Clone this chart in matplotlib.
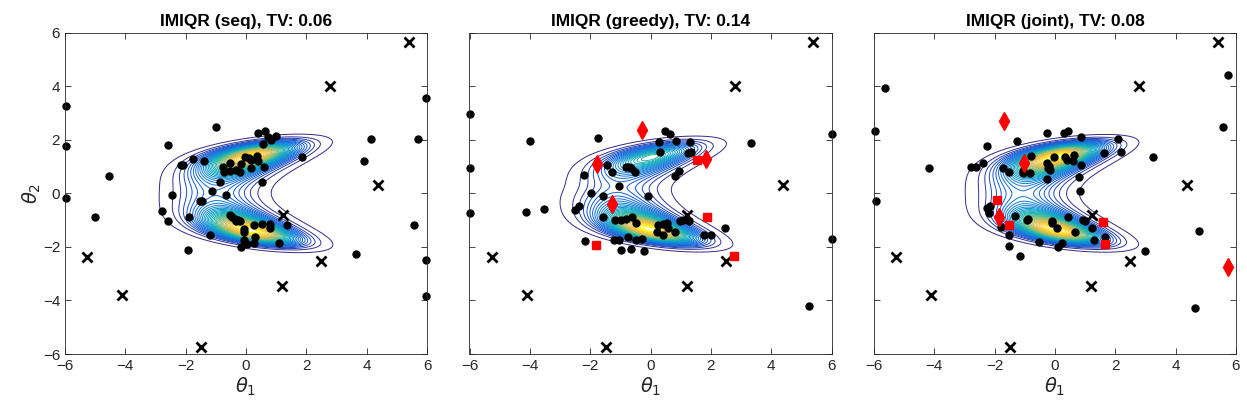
import matplotlib
matplotlib.use('Agg')
import matplotlib.pyplot as plt
import numpy as np
from matplotlib.colors import LinearSegmentedColormap

# initial design points (same in every panel)
cross_x = [5.40, 2.79, 4.39, 1.22, 2.49, 1.20, -5.26, -4.10, -1.49]
cross_y = [5.64, 4.01, 0.32, -0.80, -2.51, -3.45, -2.36, -3.81, -5.75]

titles = ['IMIQR (seq), TV: 0.06', 'IMIQR (greedy), TV: 0.14', 'IMIQR (joint), TV: 0.08']

# evaluated points, panel 1 (seq)
seq_x = [-5.97, -5.97, -5.97, -5.02, -4.53, 5.98, 5.71, 4.13, 3.91, 5.58, 5.98, 5.98, 3.64,
         -1.91, -0.99, -2.60, 1.84, -2.77, -2.59, -2.46, -1.88, -2.14, -2.10, -1.76, -1.40,
         -0.86, -1.12, -0.66, -1.52, -1.46, -1.19, -0.17,
         0.41, 0.63, 0.72, 0.82, 0.98, 0.58, -0.77, -0.72, -0.54, -0.54, -0.32, -0.19, -0.15,
         -0.04, 0.10, 0.18, 0.16, 0.35, 0.40, 0.61, 0.52,
         -0.54, -0.48, -0.38, -0.27, -0.19, -0.33, -0.07, -0.06, 0.27, 0.52, 0.78, 0.79, 1.37,
         0.29, -0.05, 0.04, 0.27, 1.09]
seq_y = [3.26, 1.76, -0.18, -0.88, 0.66, 3.56, 2.02, 2.03, 1.21, -1.20, -2.48, -3.84, -2.26,
         -2.13, 2.49, 1.80, 1.36, -0.65, -1.05, -0.08, -0.90, 1.05, 1.05, 1.27, 1.21,
         0.43, 0.08, -0.08, -0.29, -0.30, -1.54, -2.00,
         2.24, 2.33, 2.09, 2.00, 2.16, 1.85, 0.99, 0.81, 1.12, 0.85, 0.88, 0.78, 1.09,
         1.37, 1.32, 1.25, 0.95, 1.41, 1.22, 1.00, 0.42,
         -0.80, -0.89, -0.95, -1.00, -1.05, -1.02, -1.33, -1.45, -1.19, -1.15, -1.14, -1.30, -1.20,
         -1.62, -1.76, -1.89, -1.87, -1.87]

# panel 2 (greedy)
gre_x = [-6.0, -6.0, -6.0, -3.98, -4.13, -3.54, -1.75, 6.0, 6.0, 5.25, 3.33, 2.46, 2.00, 1.77,
         0.47, 0.63, 0.84, 1.32, 1.24, 1.34, 0.28, 0.31, -1.43, -1.29, -0.80, -0.71, -0.64, -0.53,
         -2.19, -1.06, -1.96, -1.58, -0.07, 0.82, 0.93, -2.36, -2.49, -1.58,
         -1.17, -0.97, -0.80, -0.60, -0.47, 0.25, 0.42, 0.55, 0.58, 0.82, 0.97, 1.08, 1.26,
         0.21, 0.42, -1.20, -1.04, -0.74, -0.47, -0.27, -2.16, -0.99, -0.64, -0.22]
gre_y = [2.97, 0.96, -0.75, 1.97, -0.70, -0.60, 2.06, 2.23, -1.70, -4.20, 1.87, -1.31, -1.55, -1.55,
         2.32, 2.21, 1.97, 1.92, 1.50, 1.56, 1.91, 1.56, 1.06, 0.79, 1.00, 1.00, 0.94, 0.81,
         0.69, 0.27, 0.00, -0.10, -0.10, 0.66, 0.85, -0.47, -0.64, -0.87,
         -1.01, -0.99, -0.97, -0.87, -1.09, -1.18, -1.14, -1.11, -1.30, -1.43, -1.03, -0.99, -1.03,
         -1.45, -1.55, -1.74, -1.74, -1.64, -1.74, -1.70, -1.79, -2.11, -2.07, -2.16]
gre_dia_x = [-0.28, -1.77, 1.84, -1.28]
gre_dia_y = [2.38, 1.09, 1.29, -0.39]
gre_sq_x = [1.55, 1.86, 2.77, -1.80]
gre_sq_y = [1.24, -0.90, -2.33, -1.94]

# panel 3 (joint)
joi_x = [-5.62, -5.98, -5.94, -4.17, 5.75, 5.58, 3.25, 4.76, 4.64, 2.99,
         -2.27, -2.80, -2.62, -2.40, -1.25, -0.27, 0.31, 0.44, 0.87, 2.10, 2.19, 1.62, -0.81,
         -1.72, -1.54, -1.07, -1.05, -0.82, -0.28, -0.23, -0.17, -0.19,
         -0.03, 0.33, 0.41, 0.59, 0.64, 0.87, -0.27, 0.78, 0.84,
         -2.24, -2.16, -2.19, -1.79, -1.32, -0.94, -0.88, -0.11, -0.10, 0.08, 0.42,
         0.92, 1.00, 1.22, 0.66, 1.67, 1.28, -0.52, 0.24, 0.09, -1.54, -1.51, -1.16]
joi_y = [3.94, 2.31, -0.27, 0.96, 4.42, 2.49, 1.36, -1.41, -4.27, -2.17,
         1.77, 1.00, 1.00, 1.12, 1.94, 2.24, 2.24, 2.34, 2.09, 2.03, 1.56, 1.51, 1.40,
         0.95, 0.79, 0.85, 0.75, 0.76, 1.12, 0.96, 0.87, 1.04,
         1.34, 1.34, 1.25, 1.20, 1.44, 1.06, 0.55, 0.61, 0.08,
         -0.55, -0.47, -0.72, -1.25, -0.84, -0.99, -0.94, -1.05, -1.11, -1.30, -0.87,
         -0.99, -1.05, -1.30, -1.45, -1.64, -1.76, -1.80, -1.86, -2.02, -1.57, -1.96, -2.35]
joi_dia_x = [-1.68, -1.03, -1.87, 5.75]
joi_dia_y = [2.72, 1.12, -0.87, -2.76]
joi_sq_x = [-1.93, -1.53, 1.58, 1.66]
joi_sq_y = [-0.26, -1.18, -1.08, -1.90]

# estimated posterior per panel: weight of upper / lower lobe, theta1 centre
lobe_up = [0.95, 0.5, 1.0]
lobe_low = [1.0, 1.0, 0.97]
centre = [0.15, 0.0, 0.05]

parula = LinearSegmentedColormap.from_list('parula', [
    (0.2081, 0.1663, 0.5292), (0.0592, 0.3599, 0.8684), (0.0780, 0.5041, 0.8385),
    (0.0232, 0.6419, 0.7914), (0.1802, 0.7178, 0.6425), (0.5301, 0.7492, 0.4662),
    (0.8186, 0.7328, 0.3499), (0.9956, 0.7862, 0.1968), (0.9763, 0.9831, 0.0538)])

t1, t2 = np.meshgrid(np.linspace(-6, 6, 500), np.linspace(-6, 6, 500))

def post(k):
    ridge = np.exp(-0.5 * ((t2**2 - 1.8 - 0.65 * t1) / 0.8)**2)
    w = lobe_low[k] + (lobe_up[k] - lobe_low[k]) * 0.5 * (1 + np.tanh(3 * t2))
    sx = np.where(t1 < centre[k], 1.0, 0.9)
    z = w * ridge * np.exp(-0.5 * ((t1 - centre[k]) / sx)**2)
    return z / z.max()

pts = [(seq_x, seq_y, [], [], [], []),
       (gre_x, gre_y, gre_dia_x, gre_dia_y, gre_sq_x, gre_sq_y),
       (joi_x, joi_y, joi_dia_x, joi_dia_y, joi_sq_x, joi_sq_y)]

plt.rcParams['font.family'] = ['Liberation Sans', 'DejaVu Sans']
fig = plt.figure(figsize=(12.47, 4.18), dpi=100)
lefts = [65, 469.5, 874]
grey = (0.15, 0.15, 0.15)
for k in range(3):
    ax = fig.add_axes([lefts[k] / 1247, 64 / 418, 362 / 1247, 321.3 / 418])
    z = post(k)
    ax.contour(t1, t2, z, levels=np.linspace(0.01, 0.97, 40), cmap=parula,
               vmin=0.01, vmax=0.97, linewidths=0.7)
    px, py, dx, dy, sx, sy = pts[k]
    ax.plot(px, py, 'o', color='k', markersize=5, linestyle='none', clip_on=False)
    ax.plot(cross_x, cross_y, 'x', color='k', markersize=7.5, mew=2, linestyle='none')
    if dx:
        ax.plot(dx, dy, 'd', color='r', markersize=9, linestyle='none', clip_on=False)
        ax.plot(sx, sy, 's', color='r', markersize=6, linestyle='none')
    ax.set_xlim(-6, 6)
    ax.set_ylim(-6, 6)
    ax.set_xticks(range(-6, 7, 2))
    ax.set_yticks(range(-6, 7, 2))
    if k > 0:
        ax.set_yticklabels([])
    ax.tick_params(direction='in', top=True, right=True, length=4, width=0.6,
                   colors=grey, labelsize=11, labelcolor=grey)
    for s in ax.spines.values():
        s.set_color(grey)
        s.set_linewidth(0.6)
    ax.set_title(titles[k], fontsize=12.5, fontweight='bold', pad=5)
    ax.set_xlabel(r'$\theta_1$', fontsize=14, color=grey, labelpad=2)
    if k == 0:
        ax.set_ylabel(r'$\theta_2$', fontsize=14, color=grey, labelpad=0)

fig.savefig('out.png', dpi=100)
